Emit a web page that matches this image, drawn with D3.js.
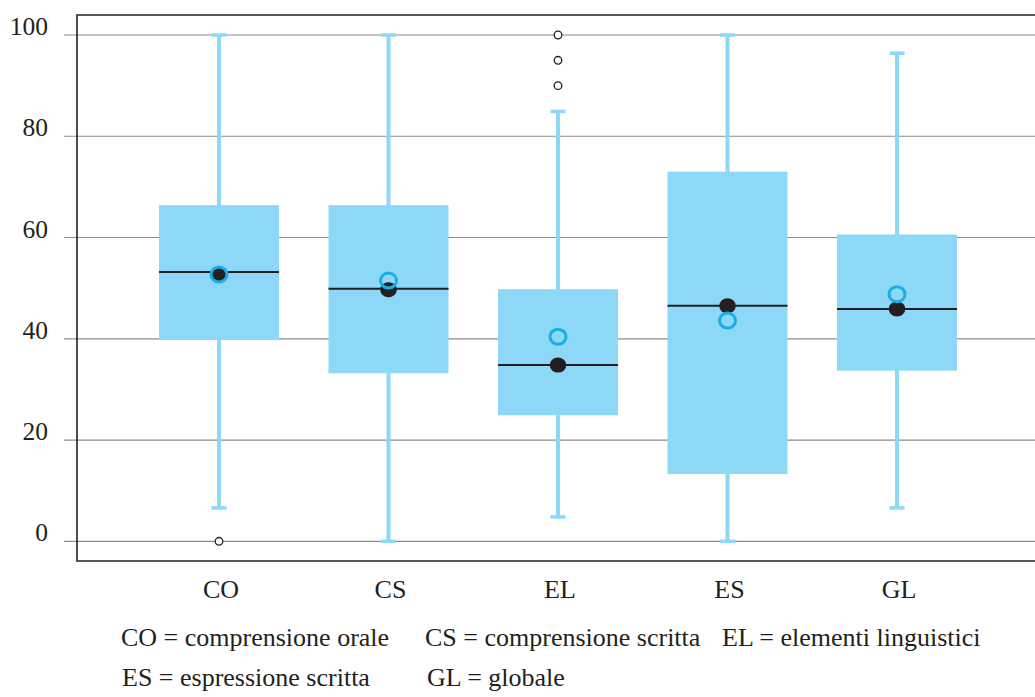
<!DOCTYPE html>
<html>
<head>
<meta charset="utf-8">
<script src="https://cdn.jsdelivr.net/npm/d3@7"></script>
<style>
  body { margin: 0; background: #fff; }
</style>
</head>
<body>
<svg id="chart" width="1035" height="697"></svg>
<script>
// Data
const categories = ["CO", "CS", "EL", "ES", "GL"];
const whiskerLow = [6.6, 0, 4.8, 0, 6.6];
const q1 = [39.9, 33.2, 24.9, 13.3, 33.7];
const median = [53.2, 49.9, 34.8, 46.5, 45.9];
const q3 = [66.4, 66.4, 49.8, 73.0, 60.6];
const whiskerHigh = [100, 100, 84.9, 100, 96.4];
const blackDots = [52.8, 49.7, 34.8, 46.5, 45.9];
const blueRings = [52.7, 51.5, 40.4, 43.6, 48.8];
const outlierCats = ["CO", "EL", "EL", "EL"];
const outlierVals = [0, 90, 95, 100];
const yTicks = [0, 20, 40, 60, 80, 100];
const legendRow1 = ["CO = comprensione orale", "CS = comprensione scritta", "EL = elementi linguistici"];
const legendRow2 = ["ES = espressione scritta", "GL = globale"];

const boxColor = "#8dd8f6";
const ringColor = "#1aaee8";
const darkColor = "#231f20";

const svg = d3.select("#chart");

// Scales
const x = d3.scalePoint()
    .domain(categories)
    .range([219, 897]);

const y = d3.scaleLinear()
    .domain([0, 100])
    .range([541.3, 35]);

const frameLeft = 77;
const frameTop = 15;
const frameBottom = 561;
const boxWidth = 120;

// shared text look
function serifText(sel, size) {
    return sel.style("font-family", "Liberation Serif")
        .style("font-size", (size || 26) + "px")
        .style("fill", darkColor);
}

// Gridlines
svg.append("g")
    .selectAll("line")
    .data(yTicks)
    .enter()
    .append("line")
    .attr("x1", 64)
    .attr("x2", 1035)
    .attr("y1", d => y(d))
    .attr("y2", d => y(d))
    .attr("stroke", "#8c8c8c")
    .attr("stroke-width", 1.2);

// Tick labels (baseline sits on the gridline)
svg.selectAll(".ytick")
    .data(yTicks)
    .enter()
    .append("text")
    .attr("class", "ytick")
    .attr("x", 48)
    .attr("y", d => y(d))
    .attr("text-anchor", "end")
    .call(serifText, 25.5)
    .text(d => d);

// Frame (left, top, bottom; right edge runs off the page)
svg.append("path")
    .attr("d", `M1040,${frameTop}H${frameLeft}V${frameBottom}H1040`)
    .attr("fill", "none")
    .attr("stroke", darkColor)
    .attr("stroke-width", 1.6);

const boxes = categories.map((c, i) => ({
    cat: c,
    low: whiskerLow[i], q1: q1[i], med: median[i], q3: q3[i], high: whiskerHigh[i],
    dot: blackDots[i], ring: blueRings[i]
}));

const g = svg.append("g");

// Whiskers
g.selectAll(".whisker")
    .data(boxes)
    .enter()
    .append("line")
    .attr("class", "whisker")
    .attr("x1", d => x(d.cat))
    .attr("x2", d => x(d.cat))
    .attr("y1", d => y(d.low))
    .attr("y2", d => y(d.high))
    .attr("stroke", boxColor)
    .attr("stroke-width", 4);

// Whisker caps
["low", "high"].forEach(k => {
    g.selectAll(".cap-" + k)
        .data(boxes)
        .enter()
        .append("line")
        .attr("x1", d => x(d.cat) - 7.5)
        .attr("x2", d => x(d.cat) + 7.5)
        .attr("y1", d => y(d[k]))
        .attr("y2", d => y(d[k]))
        .attr("stroke", boxColor)
        .attr("stroke-width", 3.5);
});

// Boxes
g.selectAll(".box")
    .data(boxes)
    .enter()
    .append("rect")
    .attr("class", "box")
    .attr("x", d => x(d.cat) - boxWidth / 2)
    .attr("width", boxWidth)
    .attr("y", d => y(d.q3))
    .attr("height", d => y(d.q1) - y(d.q3))
    .attr("fill", boxColor);

// Medians
g.selectAll(".median")
    .data(boxes)
    .enter()
    .append("line")
    .attr("x1", d => x(d.cat) - boxWidth / 2)
    .attr("x2", d => x(d.cat) + boxWidth / 2)
    .attr("y1", d => y(d.med))
    .attr("y2", d => y(d.med))
    .attr("stroke", darkColor)
    .attr("stroke-width", 2);

// Black dots
g.selectAll(".dot")
    .data(boxes)
    .enter()
    .append("ellipse")
    .attr("cx", d => x(d.cat))
    .attr("cy", d => y(d.dot))
    .attr("rx", 8.3)
    .attr("ry", 7.5)
    .attr("fill", darkColor);

// Blue rings
g.selectAll(".ring")
    .data(boxes)
    .enter()
    .append("ellipse")
    .attr("cx", d => x(d.cat))
    .attr("cy", d => y(d.ring))
    .attr("rx", 8)
    .attr("ry", 7.5)
    .attr("fill", "none")
    .attr("stroke", ringColor)
    .attr("stroke-width", 3);

// Outliers
g.selectAll(".outlier")
    .data(outlierVals)
    .enter()
    .append("circle")
    .attr("cx", (d, i) => x(outlierCats[i]))
    .attr("cy", d => y(d))
    .attr("r", 3.8)
    .attr("fill", "#fff")
    .attr("stroke", darkColor)
    .attr("stroke-width", 1.3);

// Category labels
svg.selectAll(".xlabel")
    .data(categories)
    .enter()
    .append("text")
    .attr("class", "xlabel")
    .attr("x", d => x(d) + 2)
    .attr("y", 598)
    .attr("text-anchor", "middle")
    .call(serifText)
    .text(d => d);

// Legend text
const row1X = [121, 425, 722];
const row2X = [122, 427];
svg.selectAll(".leg1")
    .data(legendRow1)
    .enter()
    .append("text")
    .attr("class", "leg1")
    .attr("x", (d, i) => row1X[i])
    .attr("y", 646)
    .call(serifText)
    .text(d => d);

svg.selectAll(".leg2")
    .data(legendRow2)
    .enter()
    .append("text")
    .attr("class", "leg2")
    .attr("x", (d, i) => row2X[i])
    .attr("y", 686)
    .call(serifText)
    .text(d => d);
</script>
</body>
</html>
